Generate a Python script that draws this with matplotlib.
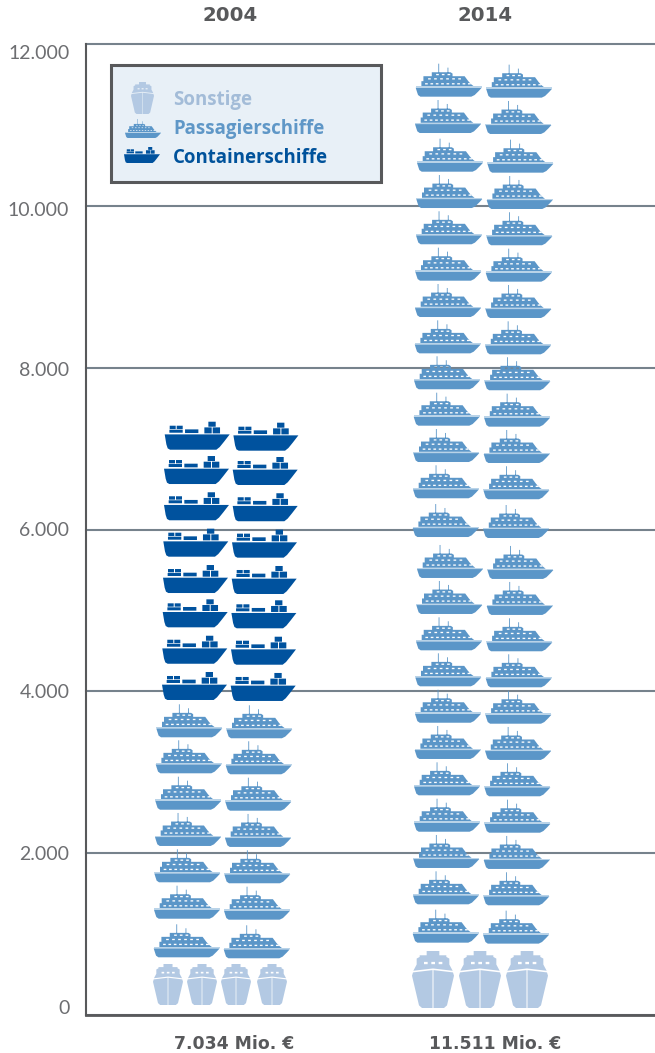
#!/usr/bin/env python3
"""Ship pictogram chart: freight values 2004 and 2014 (Mio. EUR)."""

import matplotlib
matplotlib.use('Agg')
import matplotlib.pyplot as plt
import numpy as np
from matplotlib.patches import PathPatch, Rectangle
from matplotlib.path import Path
from matplotlib.transforms import Affine2D

# --- data -------------------------------------------------------------------
years = ['2004', '2014']
totals = ['7.034 Mio. €', '11.511 Mio. €']
legend_labels = ['Sonstige', 'Passagierschiffe', 'Containerschiffe']
y_ticks = [0, 2000, 4000, 6000, 8000, 10000, 12000]
y_tick_labels = ['0', '2.000', '4.000', '6.000', '8.000', '10.000', '12.000']

# value at the keel of each row of ships
passenger_2004 = [713, 1190, 1640, 2089, 2537, 2987, 3432]
container_2004 = [3893, 4341, 4791, 5215, 5664, 6114, 6562, 6986]
passenger_2014 = [894, 1368, 1817, 2265, 2715, 3164, 3612, 4062, 4507, 4956,
                  5401, 5907, 6386, 6834, 7283, 7733, 8177, 8626, 9075, 9525,
                  9973, 10422, 10900, 11349]
other_icons_2004 = 4
other_icons_2014 = 3

# --- layout and style -------------------------------------------------------
W, H = 655, 1053
AX_LEFT, AX_RIGHT, AX_TOP, AX_BOTTOM = 86, 655, 44, 1015
CAT_X = [230, 485]      # pixel position of the two categories

GRAY = '#58595b'
GRID = '#76828c'
C_OTHER = '#b3c9e3'
C_PASS = '#5b96c8'
C_DECK = '#b9d3e8'
C_CONT = '#00529e'
T_OTHER = '#a3bcd8'
T_PASS = '#5f97c7'
T_CONT = '#00529b'

# left hull edge of the left-hand ship of each row, bottom row first
pass04_left = [153.7, 154, 154.3, 155, 155.3, 155.7, 156.3]
cont04_left = [162, 162.3, 162.7, 163, 163.3, 164, 164, 164.7]
pass14_left = [412.7, 413, 413.3, 414, 414, 414.7, 415, 415.3, 416, 416.3,
               417, 412.7, 413, 413.3, 413.7, 414, 414.7, 415, 415.3, 416,
               416.3, 417, 415, 415.7]
other04_center = [168, 202, 236, 272]
other14_center = [433, 480, 527]


def ring(points, hole=False):
    """Closed polygon in a fixed winding so holes cut through."""
    pts = np.array(points, dtype=float)
    x, y = pts[:, 0], pts[:, 1]
    area = np.sum(x * np.roll(y, -1) - np.roll(x, -1) * y)
    if (area < 0) != hole:
        pts = pts[::-1]
    verts = np.vstack([pts, pts[0]])
    codes = [Path.MOVETO] + [Path.LINETO] * (len(pts) - 1) + [Path.CLOSEPOLY]
    return verts, codes


def rect(x0, y0, x1, y1):
    return [(x0, y0), (x1, y0), (x1, y1), (x0, y1)]


def build(outers, holes, width, height):
    verts, codes = [], []
    for pts, is_hole in [(p, False) for p in outers] + [(p, True) for p in holes]:
        v, c = ring(pts, is_hole)
        verts.append(v)
        codes += c
    verts = np.vstack(verts) / [width, height]
    return Path(verts, codes)


def passenger_icon():
    hull = [(0, 27), (197, 27), (188, 17), (176, 5), (166, 0), (14, 0), (7, 5), (4, 14)]
    cabin = [(17, 31), (174, 31), (165, 38), (157, 47), (146, 62), (110, 62), (110, 70),
             (104, 74), (48, 74), (48, 62), (23, 62), (23, 47), (17, 47)]
    mast_a = rect(67.5, 72, 70, 100)
    mast_b = rect(95, 72, 97.5, 88)
    holes = [rect(28 + 16 * i, 37, 36 + 16 * i, 41) for i in range(9)]
    holes += [rect(37 + 18 * i, 52, 45 + 18 * i, 56) for i in range(6)]
    holes += [rect(61 + 17 * i, 65, 69 + 17 * i, 69) for i in range(3)]
    return build([hull, cabin, mast_a, mast_b], holes, 197, 100)


def container_icon():
    hull = [(0, 46), (195, 46), (178, 24), (165, 8), (155, 0), (16, 0), (9, 4), (5, 16)]
    boxes = [rect(14, 51, 54, 60), rect(15, 62, 33, 72), rect(36, 62, 54, 72),
             rect(61, 50, 101, 61), rect(119, 49, 141, 67), rect(144, 49, 166, 67),
             rect(131, 69, 153, 84)]
    return build([hull] + boxes, [], 195, 84)


def other_icon():
    left = [(61.5, 115), (3, 108), (0, 98), (21, 8), (30, 0), (61.5, 0)]
    right = [(126 - x, y) for x, y in left]
    cabin = [(4, 113), (63, 120), (122, 113), (112, 132), (112, 150), (103, 155),
             (103, 160), (82, 160), (82, 173), (44, 173), (44, 160), (23, 160),
             (23, 155), (14, 150), (14, 132)]
    holes = [rect(36, 133, 47, 140), rect(58, 133, 69, 140), rect(80, 133, 91, 140)]
    return build([left, right, cabin], holes, 126, 173)


PASSENGER = passenger_icon()
DECK = build([rect(0, 27, 197, 31)], [], 197, 100)
CONTAINER = container_icon()
OTHER = other_icon()

fig = plt.figure(figsize=(W / 100, H / 100), dpi=100)
ax = fig.add_axes([AX_LEFT / W, 1 - AX_BOTTOM / H, (AX_RIGHT - AX_LEFT) / W,
                   (AX_BOTTOM - AX_TOP) / H])

x_per_px = 1 / (CAT_X[1] - CAT_X[0])
y_per_px = 12000 / (AX_BOTTOM - AX_TOP)
ax.set_xlim((AX_LEFT - CAT_X[0]) * x_per_px, (AX_RIGHT - CAT_X[0]) * x_per_px)
ax.set_ylim(0, 12000)


def to_x(px):
    return (px - CAT_X[0]) * x_per_px


def to_y(py):
    return (AX_BOTTOM - py) * y_per_px


def place(path, left_px, value, w_px, h_px, color, zorder=3):
    """Put an icon with its lower-left corner at a pixel x and a data value."""
    tr = Affine2D().scale(w_px * x_per_px, h_px * y_per_px).translate(to_x(left_px), value)
    ax.add_patch(PathPatch(path.transformed(tr), facecolor=color, edgecolor='none',
                           zorder=zorder, clip_on=False))


def place_passenger(left_px, value, w_px=66, h_px=33, zorder=3):
    place(PASSENGER, left_px, value, w_px, h_px, C_PASS, zorder)
    place(DECK, left_px, value, w_px, h_px, C_DECK, zorder)


# rows of two ships; the right ship sits about a pixel lower
for value, left in zip(passenger_2004, pass04_left):
    place_passenger(left, value)
    place_passenger(left + 70, value - 12)
for value, left in zip(container_2004, cont04_left):
    place(CONTAINER, left, value, 65, 28, C_CONT)
    place(CONTAINER, left + 68.7, value - 12, 65, 28, C_CONT)
for value, left in zip(passenger_2014, pass14_left):
    place_passenger(left, value)
    place_passenger(left + 70.4, value - 12)

for cx in other04_center[:other_icons_2004]:
    place(OTHER, cx - 15, to_y(1005), 30, 41, C_OTHER)
for cx in other14_center[:other_icons_2014]:
    place(OTHER, cx - 21, to_y(1008), 42, 57, C_OTHER)

# axes
ax.set_yticks(y_ticks, y_tick_labels)
ax.yaxis.grid(True, color=GRID, linewidth=1.5, zorder=1, clip_on=False)
ax.set_axisbelow(True)
ax.tick_params(axis='y', length=0, pad=12, labelsize=14, labelcolor='#6d6e71')
tick_shift = [8, 0, 0, 0, -1, -3, -8]   # label nudges in pixels
for label, dy in zip(ax.get_yticklabels(), tick_shift):
    label.set_fontfamily('Lato')
    label.set_transform(label.get_transform() + Affine2D().translate(0, dy))

for side in ['top', 'right']:
    ax.spines[side].set_visible(False)
ax.spines['left'].set_color(GRAY)
ax.spines['left'].set_linewidth(1.5)
ax.spines['bottom'].set_color(GRAY)
ax.spines['bottom'].set_linewidth(2)

ax.set_xticks([0, 1], totals)
ax.tick_params(axis='x', length=0, pad=14.5)
total_shift = [4, 10]   # the totals sit right of the category centres
for label, dx in zip(ax.get_xticklabels(), total_shift):
    label.set_fontweight('bold')
    label.set_fontsize(12.4)
    label.set_color(GRAY)
    label.set_transform(label.get_transform() + Affine2D().translate(dx, 0))

top_axis = ax.secondary_xaxis('top')
top_axis.set_xticks([0, 1], years)
top_axis.tick_params(length=0, pad=14)
top_axis.spines['top'].set_visible(False)
for label in top_axis.get_xticklabels():
    label.set_fontweight('bold')
    label.set_fontsize(14.2)
    label.set_color(GRAY)

# legend box drawn by hand, it carries the ship pictograms
ax.add_patch(Rectangle((to_x(111), to_y(182)), 270 * x_per_px, 117 * y_per_px,
                       facecolor='#e8f0f7', edgecolor=GRAY, linewidth=2.2, zorder=4))
place(OTHER, 131, to_y(114), 23, 32, C_OTHER, zorder=5)
place_passenger(125, to_y(138), 36, 19, zorder=5)
place(CONTAINER, 124, to_y(163), 36, 16, C_CONT, zorder=5)
for text, py, color in zip(legend_labels, [100, 129, 158], [T_OTHER, T_PASS, T_CONT]):
    ax.text(to_x(173), to_y(py), text, color=color, fontsize=13.4, fontweight='bold',
            family='Open Sans', va='center', ha='left', zorder=5)

fig.savefig('out.png', dpi=100)
